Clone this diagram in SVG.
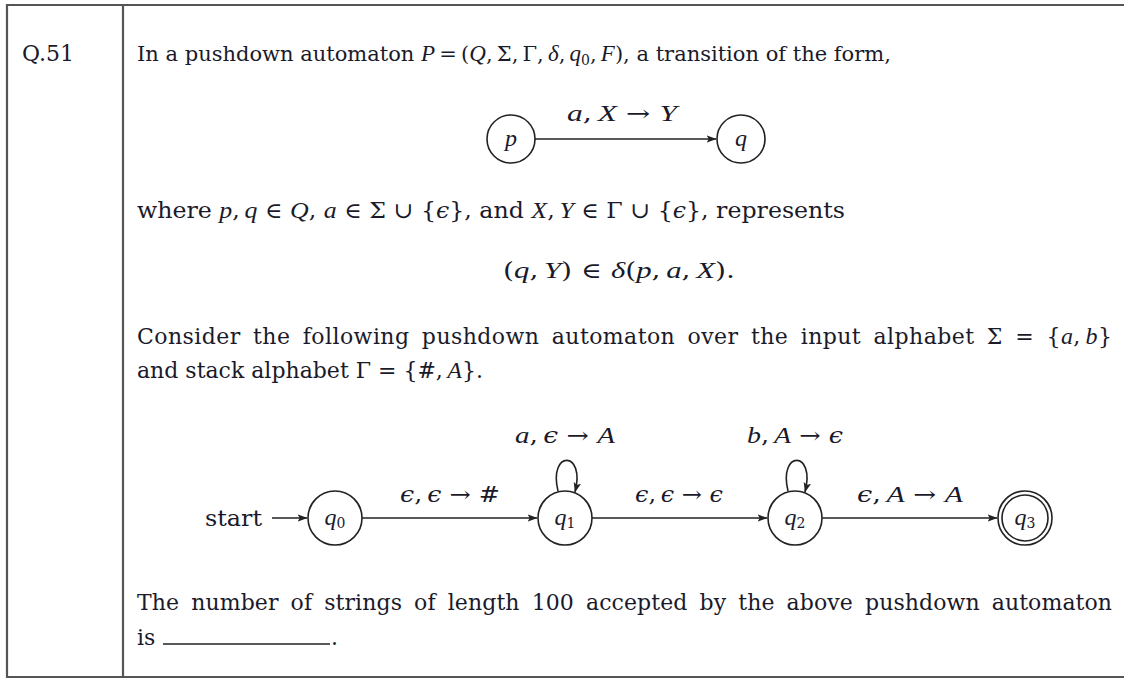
<svg xmlns="http://www.w3.org/2000/svg" width="1124" height="679" viewBox="0 0 1124 679">
<style>
text{font-family:"DejaVu Serif","Liberation Serif",serif;font-size:22px;fill:#1a1a2a}
.s21{font-size:21px}
.i{font-family:"Liberation Serif","DejaVu Serif",serif;font-style:italic;font-size:24px}
.i21{font-family:"Liberation Serif","DejaVu Serif",serif;font-style:italic;font-size:23px}
.e{font-family:"DejaVu Serif",serif;font-style:italic}
.sub{font-size:14px}
.ws{word-spacing:5px}
.st{fill:none;stroke:#222;stroke-width:1.6}
.ed{fill:none;stroke:#222;stroke-width:1.6;marker-end:url(#ah)}
.bd{stroke:#555;stroke-width:2.2;fill:none}
</style>
<defs>
<marker id="ah" viewBox="0 0 10 10" refX="9.5" refY="5" markerWidth="10" markerHeight="10" markerUnits="userSpaceOnUse" orient="auto">
<path d="M0,1.2 L10,5 L0,8.8 L2.2,5 Z" fill="#222"/>
</marker>
</defs>
<rect width="1124" height="679" fill="#fff"/>
<g id="frame">
<path class="bd" d="M1130,5 L7,5 L7,677 L1130,677"/>
<line class="bd" x1="123" y1="5" x2="123" y2="677"/>
</g>
<g id="text">
<text x="22" y="61">Q.51</text>
<text class="s21" x="137" y="61">In a pushdown automaton <tspan class="i21">P</tspan>&#8201;=&#8201;(<tspan class="i21">Q</tspan>,&#8201;Σ,&#8201;Γ,&#8201;<tspan class="i21">δ</tspan>,&#8201;<tspan class="i21">q</tspan><tspan class="sub" dy="4">0</tspan><tspan dy="-4">,&#8201;</tspan><tspan class="i21">F</tspan>), a transition of the form,</text>
<text x="137" y="218" textLength="708" lengthAdjust="spacingAndGlyphs">where <tspan class="i">p</tspan>,&#8201;<tspan class="i">q</tspan> ∈ <tspan class="i">Q</tspan>, <tspan class="i">a</tspan> ∈ Σ ∪ {<tspan class="e">ϵ</tspan>}, and <tspan class="i">X</tspan>,&#8201;<tspan class="i">Y</tspan> ∈ Γ ∪ {<tspan class="e">ϵ</tspan>}, represents</text>
<text x="503" y="278" textLength="232" lengthAdjust="spacingAndGlyphs">(<tspan class="i">q</tspan>,&#8201;<tspan class="i">Y</tspan>) ∈ <tspan class="i">δ</tspan>(<tspan class="i">p</tspan>,&#8201;<tspan class="i">a</tspan>,&#8201;<tspan class="i">X</tspan>).</text>
<text class="ws" x="137" y="344" textLength="975" lengthAdjust="spacing">Consider the following pushdown automaton over the input alphabet Σ = {<tspan class="i">a</tspan>,&#8201;<tspan class="i">b</tspan>}</text>
<text x="137" y="378">and stack alphabet Γ = {#,&#8201;<tspan class="i">A</tspan>}.</text>
<text class="ws" x="137" y="610" textLength="975" lengthAdjust="spacing">The number of strings of length 100 accepted by the above pushdown automaton</text>
<text x="137" y="645">is</text>
<line x1="163" y1="644" x2="330" y2="644" stroke="#222" stroke-width="1.3"/>
<text x="331" y="645">.</text>
</g>
<g id="node-p">
<circle class="st" cx="511" cy="139" r="24"/>
<text class="i" x="511" y="146" text-anchor="middle">p</text>
</g>
<g id="node-q">
<circle class="st" cx="741" cy="139" r="24"/>
<text class="i" x="741" y="146" text-anchor="middle">q</text>
</g>
<g id="node-q0">
<circle class="st" cx="335" cy="518" r="27"/>
<text x="335" y="525" text-anchor="middle"><tspan class="i">q</tspan><tspan class="sub" dy="3">0</tspan></text>
</g>
<g id="node-q1">
<circle class="st" cx="565" cy="518" r="27"/>
<text x="565" y="525" text-anchor="middle"><tspan class="i">q</tspan><tspan class="sub" dy="3">1</tspan></text>
</g>
<g id="node-q2">
<circle class="st" cx="795" cy="518" r="27"/>
<text x="795" y="525" text-anchor="middle"><tspan class="i">q</tspan><tspan class="sub" dy="3">2</tspan></text>
</g>
<g id="node-q3">
<circle class="st" cx="1025" cy="518" r="27"/>
<circle class="st" cx="1025" cy="518" r="23"/>
<text x="1025" y="525" text-anchor="middle"><tspan class="i">q</tspan><tspan class="sub" dy="3">3</tspan></text>
</g>
<g id="connectors">
<line class="ed" x1="535" y1="139" x2="716" y2="139"/>
<text x="567" y="121" textLength="110" lengthAdjust="spacingAndGlyphs"><tspan class="i">a</tspan>,&#8201;<tspan class="i">X</tspan> → <tspan class="i">Y</tspan></text>
<text x="205" y="526" textLength="57" lengthAdjust="spacingAndGlyphs">start</text>
<line class="ed" x1="272" y1="518" x2="307" y2="518"/>
<line class="ed" x1="362" y1="518" x2="537" y2="518"/>
<text x="400" y="502" textLength="100" lengthAdjust="spacingAndGlyphs"><tspan class="e">ϵ</tspan>,&#8201;<tspan class="e">ϵ</tspan> → #</text>
<line class="ed" x1="592" y1="518" x2="767" y2="518"/>
<text x="635" y="502" textLength="88" lengthAdjust="spacingAndGlyphs"><tspan class="e">ϵ</tspan>,&#8201;<tspan class="e">ϵ</tspan> → <tspan class="e">ϵ</tspan></text>
<line class="ed" x1="822" y1="518" x2="997" y2="518"/>
<text x="857" y="502" textLength="106" lengthAdjust="spacingAndGlyphs"><tspan class="e">ϵ</tspan>,&#8201;<tspan class="i">A</tspan> → <tspan class="i">A</tspan></text>
<path class="ed" d="M558,491 C548,450 586,450 575,492"/>
<text x="515" y="443" textLength="100" lengthAdjust="spacingAndGlyphs"><tspan class="i">a</tspan>,&#8201;<tspan class="e">ϵ</tspan> → <tspan class="i">A</tspan></text>
<path class="ed" d="M788,491 C778,450 816,450 805,492"/>
<text x="747" y="443" textLength="96" lengthAdjust="spacingAndGlyphs"><tspan class="i">b</tspan>,&#8201;<tspan class="i">A</tspan> → <tspan class="e">ϵ</tspan></text>
</g>
</svg>
